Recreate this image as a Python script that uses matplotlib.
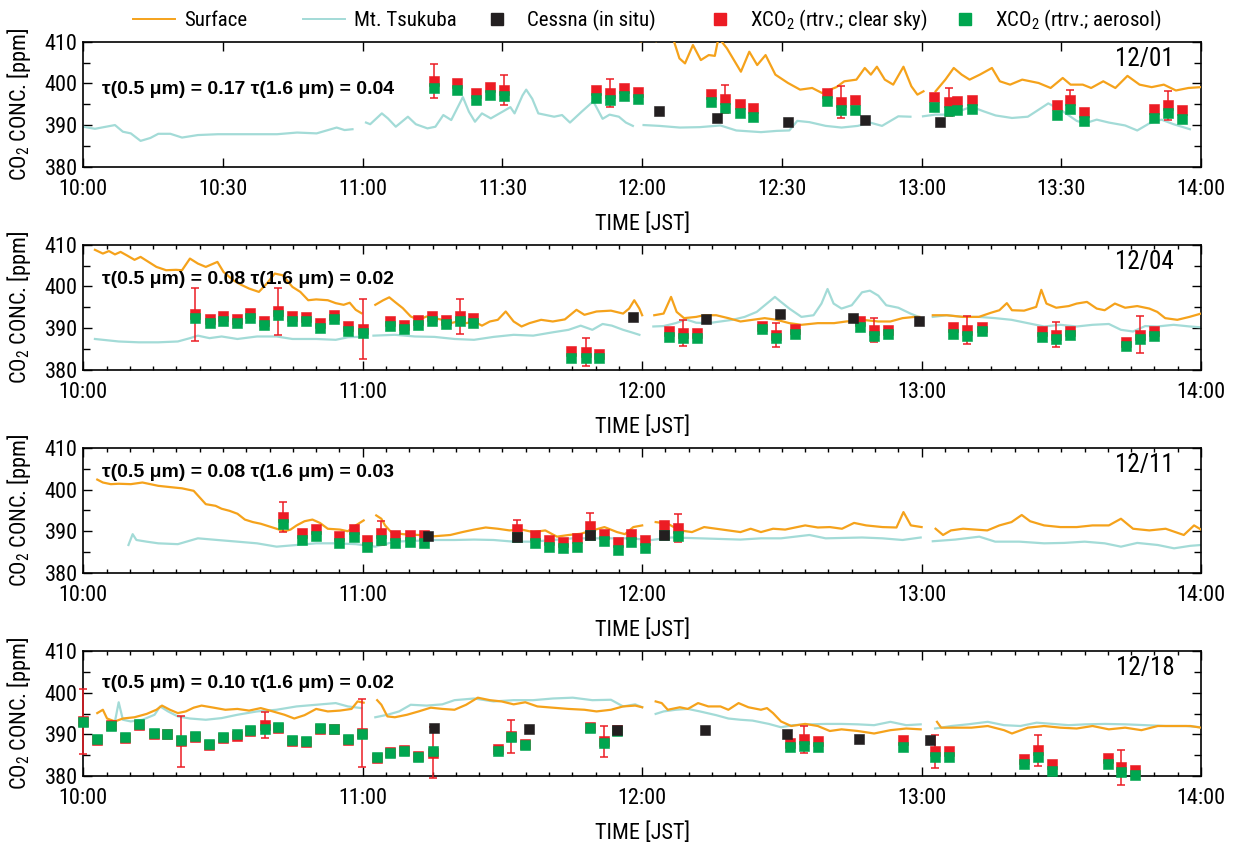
import numpy as np
import matplotlib
matplotlib.use("Agg")
import matplotlib.pyplot as plt
from matplotlib import font_manager
from matplotlib.lines import Line2D

# time axis: minutes after 10:00 JST; None marks a break in the record
# ---------------- 12/01 ----------------
surface_1201_t = [118.5, 119.8, None, 120.5, 122, 123, 124.5, 126.8, 128, 129.2, 130.9, 132.6, 134.3,
                  135.6, 136.4, 138.2, 141.2, 143, 144.7, 146.5, 148.6, 151.3, 153.9, 156.5, 158.6,
                  161.7, 163.4, 166, 167.8, 169.1, 170.4, 172.1, 173.9, 176.1, 177.8, 179.1, 180.4,
                  None, 183, 185.1, 186.9, 188.6, 190.3, 192.5, 195.1, 196.8, 199, 201.6, 205.1,
                  207.7, 210.3, 212, 214.6, 216.4, 219, 221.6, 224.2, 226.8, 229.4, 232, 234.6,
                  237.3, 240]
surface_1201 = [410.4, 410.1, None, 411.5, 411, 410.1, 411.5, 410.2, 406, 404.8, 409.2, 405.6, 406.8,
                406.6, 411, 408.4, 402.8, 407.6, 404.4, 406.8, 402.1, 400.1, 398.5, 398.9, 397.7,
                399.1, 400.5, 400.9, 403.7, 402.1, 404, 400.9, 399.7, 404, 399.3, 397.3, 398.1,
                None, 398.1, 400.9, 403.7, 402.1, 400.9, 402.1, 403.7, 400.5, 399.7, 400.9, 400.1,
                398.9, 401.3, 399.7, 399.7, 398.9, 400.5, 398.9, 401.8, 399.7, 399.1, 399.7, 398.3,
                398.9, 399.1]
tsukuba_1201_t = [0, 2.5, 6.8, 8.5, 10.2, 12.3, 14.4, 16.1, 18.7, 21.2, 24.6, 28.9, 33.1, 37.4, 41.6,
                  45.9, 50.1, 54.4, 56.1, 57.8, None, 60.7, 61.6, 64.1, 65.4, 67.1, 69.7, 71.4, 73.9,
                  75.6, 77.3, 79, 81.5, 82.8, 84.1, 85.6, 87.5, 90, 91.7, 92.6, 94.3, 95.1, 96.4,
                  97.7, 101.1, 102.8, 104.5, 107, 109.5, 111.5, 113, 115, 116.5, 118, None, 120.3,
                  123.7, 128.1, 132.4, 136.8, 140.2, 145.5, 148.9, 151.6, 153.3, 155.9, 159.4, 162.8,
                  166.3, 168.9, 171.5, 175, 177.6, None, 180.3, 182.9, 186.4, 189, 190.7, 193.3,
                  195.9, 199.4, 202.8, 204.6, 207.2, 209.8, 213.3, 215, 217.6, 220.2, 223.7, 226.3,
                  228.9, 231.5, 234.1, 237.6]
tsukuba_1201 = [389.6, 389.1, 390, 388.4, 388, 386.2, 386.9, 387.9, 387.9, 387, 387.6, 387.8, 387.8,
                387.8, 387.8, 388.2, 388, 389.4, 388.8, 389, None, 390.6, 390.2, 392.8, 391.6, 389.6,
                392, 390.2, 389.2, 389.6, 392.4, 391.2, 396.7, 393.2, 390.8, 392.8, 391.6, 393.2,
                394.3, 392.8, 397.1, 398.5, 396.3, 392.8, 392, 392.4, 390.6, 393.2, 395.7, 391.5,
                392.5, 392, 390.6, 389.8, None, 390, 389.8, 389.4, 389.5, 389.9, 388.7, 388.3,
                388.6, 388.7, 391, 390.7, 389.8, 389.4, 389.8, 390.6, 389.8, 392.1, 392, None,
                392.1, 392.5, 392.5, 393.7, 394.4, 393.3, 392.3, 391.7, 392, 393.3, 395.2, 393.7,
                391, 390.4, 391.3, 390.6, 389.9, 388.7, 390.4, 391.3, 390.2, 389]
xco2_1201_t = [75.2, 80.3, 84.3, 87.3, 90.3, 110, 113, 116, 119, 134.8, 137.8, 140.9, 143.7, 159.7,
               162.7, 165.7, 182.7, 185.9, 187.7, 190.9, 209, 211.8, 214.9, 229.8, 232.9, 235.9]
clear_1201 = [400.6, 400, 397.6, 399.1, 398.4, 398.4, 397.7, 398.9, 397.9, 397.5, 396.3, 395.1, 394.1,
              397.7, 395.5, 396, 396.7, 395.5, 395.7, 396, 394.9, 395.9, 393.1, 393.9, 394.7, 393.6]
aerosol_1201 = [398.8, 398.5, 396.1, 397.3, 396.9, 396.5, 395.9, 396.9, 396.3, 395.5, 394.1, 392.9,
                392, 395.7, 393.5, 393.7, 394.3, 393.3, 393.6, 393.9, 392.5, 393.9, 391, 391.6,
                392.8, 391.5]
err_1201 = [4, 0, 0, 0, 3.7, 0, 3.4, 0, 0, 0, 3.4, 0, 0, 0, 3.9, 0, 0, 3.4, 0, 0, 0, 2.6, 0, 0, 3.5, 0]
cessna_1201_t = [123.7, 136.1, 151.4, 167.9, 183.9]
cessna_1201 = [393.3, 391.6, 390.8, 391.2, 390.8]

# ---------------- 12/04 ----------------
surface_1204_t = [2.5, 4.2, 5.5, 6.8, 8, 9.3, 11, 12.3, 14, 15.7, 17.8, 19.9, 21.2, 22.9, 24.6, 26.3,
                  28.8, 30.1, 32.2, 33.9, 35.6, 37.7, 39.4, 41.1, 42.8, 44.9, 46.6, 48.3, 50, 52.5,
                  54.2, 55.9, 57.2, 58.5, 59.7, None, 62.7, 64.4, 65.7, 66.9, 68.6, 70.3, 72, 73.7,
                  75.4, 77.1, 78.8, 80.5, 82.2, 83.9, 85.6, 87.3, 89, 90.7, 92.4, 94.1, 95.8, 98.3,
                  100.8, 103.4, 105.9, 107.6, 110.2, 113.3, 115.9, 117.2, 118.3, 119.4, 120, None,
                  122.6, 124.6, 126.2, 127.4, 129, 131.6, 133.3, 135.9, 138.5, 141.1, 143.7, 146.3,
                  148.9, 151.6, 154.2, 157.7, 161.2, 163.8, 167.2, 170.7, 173.3, 175.9, 178.5, 179.5,
                  None, 182.4, 185.4, 188.9, 192.3, 194.9, 196.7, 198.3, 199.4, 202, 204.6, 205.7,
                  206.8, 208.9, 211.6, 213.3, 215.5, 217.6, 219.3, 221.5, 223.7, 226.3, 228.9, 230.6,
                  232.3, 234.9, 237.5, 240]
surface_1204 = [408.8, 407.9, 408.5, 407.7, 408.3, 407.5, 406.4, 407.1, 405.9, 404.7, 403.9, 404,
                403.9, 406.7, 405.5, 404.7, 405.9, 403.5, 401.5, 400.4, 399.5, 398.7, 400.7, 403.1,
                402.7, 399.9, 398.7, 396.7, 396.9, 396.7, 396, 395.6, 396.1, 394.4, 393.6, None,
                395.6, 396.7, 397.4, 396.3, 394.8, 392.8, 392, 392.8, 392.4, 392, 391.2, 391.6,
                391.2, 391.6, 390.6, 391.6, 392, 394, 391.6, 390.4, 391.2, 392, 391.6, 392.1, 394.4,
                393.2, 394, 394.2, 393.5, 394.7, 396.7, 394.7, 393.1, None, 393.1, 393.5, 397.5,
                393.9, 392.4, 392.7, 393.1, 393.1, 392.4, 391.6, 392, 392.4, 392, 391.2, 390.8,
                391.2, 391.2, 391.6, 392, 391.6, 391.6, 392.4, 392.7, 392.7, None, 393.1, 393.1,
                392.7, 392.7, 393.7, 394.3, 396, 394.3, 394.2, 395.1, 399.2, 395.9, 394.9, 395.3,
                395.9, 396.3, 394.7, 394.3, 395.9, 394.9, 395.3, 394.7, 393.9, 392.4, 392, 392.7,
                393.5]
tsukuba_1204_t = [2.5, 7.6, 11.9, 16.1, 20.3, 22.9, 24.6, 27.1, 29.7, 33.1, 37.3, 41.5, 44.9, 50,
                  54.2, 56.8, 58.9, None, 62.3, 66.9, 71.2, 75.4, 79.7, 83.9, 88.1, 92.4, 96.6,
                  100.8, 104.2, 106.8, 109.3, 111.5, 113.5, 115.9, 117.7, 119.4, None, 122.4, 124.6,
                  127.2, 129.4, 131.6, 134.2, 136.8, 139.4, 142, 144.6, 147.2, 148.5, 149.8, 151.6,
                  154.2, 156.8, 158.5, 159.8, 161.1, 162.8, 165, 167.2, 168.9, 170.7, 172.4, 175,
                  177.6, 179.4, None, 182.4, 185.4, 188.9, 192.3, 195.8, 199.3, 202.8, 206.3, 209.8,
                  213.3, 216.7, 220.2, 222.8, 225.4, 228, 230.6, 234.1, 237.6, 240]
tsukuba_1204 = [387.4, 386.8, 386.6, 386.6, 386.8, 387.6, 388.2, 387.6, 388, 387.4, 388, 388, 387.4,
                387.4, 387.2, 387.8, 387.9, None, 388.2, 388.4, 388, 387.9, 387.4, 387.2, 387.9,
                388.4, 388.2, 389, 389.6, 390.6, 389.6, 391, 390.6, 389.6, 389, 388.4, None, 390.4,
                390.5, 391.2, 392.1, 391.3, 391.2, 391.6, 392, 392.7, 393.9, 396.3, 397.5, 396.3,
                394.7, 392.7, 393.1, 395.9, 399.4, 395.9, 394.7, 395.5, 398.6, 399, 397.8, 395.5,
                394.9, 393.5, 392.7, None, 392.7, 393.1, 392.7, 392.7, 392.4, 392, 391.2, 390.4,
                390.8, 390.4, 390.8, 391, 389.6, 389.2, 390.5, 390.4, 390.8, 390.4, 390.2]
xco2_1204_t = [24, 27.1, 29.9, 32.9, 35.8, 38.8, 41.9, 44.9, 47.9, 50.8, 53.8, 56.9, 60, 65.9, 68.8,
               71.9, 74.8, 77.8, 80.8, 83.7, 104.8, 107.9, 110.8, 125.7, 128.8, 131.7, 145.7, 148.7,
               152.9, 166.8, 169.8, 172.7, 186.8, 189.8, 192.9, 205.9, 208.9, 211.8, 223.9, 226.9,
               230]
clear_1204 = [393.3, 392.2, 392.8, 392.1, 393.6, 391.8, 394, 392.8, 392.6, 391.2, 393.2, 390.4, 389.8,
              391.6, 390.8, 392, 392.8, 392, 392.8, 392.4, 384.4, 384.2, 383.8, 389.2, 388.8, 388.8,
              390.5, 388.4, 389.8, 391.6, 389.6, 389.6, 390.2, 389.6, 390.2, 389.2, 388.4, 389.2,
              386.6, 388.4, 389.2]
aerosol_1204 = [392.5, 391.2, 391.6, 391.2, 392.4, 390.8, 393.2, 391.7, 391.7, 390, 392.1, 389.4,
                388.8, 390.4, 389.8, 390.8, 391.6, 391, 391.7, 391.2, 382.9, 382.9, 382.9, 387.9,
                387.6, 387.6, 389.8, 387.6, 388.6, 390.2, 388.2, 388.7, 388.7, 388, 389.2, 387.9,
                387.4, 388.4, 385.7, 387.3, 388]
err_1204 = [6.4, 0, 0, 0, 0, 0, 5.7, 0, 0, 0, 0, 0, 7.3, 0, 0, 0, 0, 0, 4.3, 0, 0, 3.4, 0, 0, 3.2,
            0, 0, 2.9, 0, 0, 2.9, 0, 0, 3.4, 0, 0, 3.0, 0, 0, 4.4, 0]
cessna_1204_t = [118.1, 133.7, 149.7, 165.2, 179.4]
cessna_1204 = [392.6, 392.1, 393.4, 392.4, 391.8]

# ---------------- 12/11 ----------------
surface_1211_t = [3, 4.2, 5.9, 7.6, 10.2, 12.7, 14.4, 16.1, 18.6, 21.2, 23.7, 25, 26.3, 28.4, 29.7,
                  31.4, 33.1, 34.7, 36.4, 38.1, 39.8, 41.5, 43.2, 44.5, 45.8, 47.5, 49.2, 50.8, 52.5,
                  55.1, 56.8, 58.5, 60.2, None, 62.9, 64, 64.8, 66.1, 68.6, 72, 75.4, 78.8, 81.4,
                  83.9, 86.4, 89, 91.5, 94.1, 96.6, 99.2, 101.7, 104.2, 106.8, 109.3, 111.9, 114.6,
                  116.3, 118.1, 120, None, 122.9, 125.5, 128.1, 130.7, 133.3, 135.9, 138.5, 141.1,
                  143.3, 145.5, 148.1, 150.7, 155, 157.7, 160.3, 162.9, 165.5, 168.1, 171.6, 174.6,
                  176.1, 177.7, 180, None, 183, 184.6, 186.3, 188.9, 191.5, 194.1, 196.7, 199.3,
                  201.5, 203.3, 206.3, 209.8, 213.3, 216.7, 220.2, 222.8, 225.4, 228.9, 232.4, 236.3,
                  238.5, 240]
surface_1211 = [402.4, 401.7, 401.3, 401.4, 401.3, 401.7, 401.3, 400.9, 400.6, 400.3, 399.7, 398.1,
                396.5, 396.1, 395.4, 394.9, 394.2, 392.8, 392.2, 391.8, 391.2, 390.6, 390, 390.4,
                391.4, 392.4, 392.8, 392, 390.6, 390.4, 390, 391.4, 392.6, None, 393.8, 393, 391.4,
                389.8, 389.3, 389.1, 388.8, 389.1, 389.8, 390.4, 390.9, 390.6, 390.2, 390.4, 389.8,
                390.2, 388.7, 389.1, 389.4, 390.2, 391, 389.8, 389.3, 391, 391.4, None, 392.2,
                391.8, 390.2, 389.8, 391, 390.6, 390.2, 389.8, 390.6, 389.8, 390.6, 390.4, 391.4,
                390.9, 391, 390.6, 392, 391.4, 391, 390.9, 394.6, 391.4, 391, None, 390.6, 389.1,
                390.2, 390.6, 390.4, 390.2, 391.4, 392.2, 393.9, 392.4, 391.4, 391, 391, 391.4,
                391.4, 393, 390.6, 390.2, 390.6, 389.1, 391.4, 390.4]
tsukuba_1211_t = [9.7, 10.6, 11.4, 13.6, 16.1, 20.3, 24.6, 28.8, 33.1, 37.3, 41.5, 45.8, 50, 54.2,
                  58.5, 62.7, 66.9, 71.2, 75.4, 79.7, 83.9, 88.1, 92.4, 96.6, 100.8, 105.1, 109.3,
                  113, 117, 122, 126.3, 132.4, 141.1, 145.5, 149.8, 155.9, 159.4, 167.2, 171.6,
                  175.9, 179.8, None, 182.4, 187.2, 192.4, 195.8, 201, 206.3, 210.6, 215, 219.3,
                  222.8, 226.3, 230.7, 234.2, 237.7, 240]
tsukuba_1211 = [386.7, 389.3, 387.9, 387.5, 387.1, 386.9, 388.3, 387.9, 387.5, 387.1, 386.3, 386.7,
                387.1, 387.1, 386.9, 386.3, 387.5, 387.7, 387.9, 387.9, 388, 387.9, 387.5, 387.5,
                387.9, 388.3, 388.3, 388.3, 388.3, 387.9, 388.5, 388.3, 388, 388.3, 388.3, 389.1,
                388.3, 388.5, 388.3, 387.9, 388.5, None, 387.6, 388, 388.7, 387.5, 387.5, 387.1,
                387.2, 387.5, 387.1, 386.3, 387.2, 386.7, 385.9, 386.5, 386.7]
xco2_1211_t = [42.8, 47, 50, 54.9, 58.1, 61, 64, 66.9, 70.1, 73.1, 93.1, 97, 100, 103, 105.9, 108.9,
               111.9, 114.8, 117.7, 120.7, 124.6, 127.7]
clear_1211 = [393.4, 389.6, 390.6, 388.8, 390.6, 387.9, 389.6, 389.1, 389.1, 389.1, 390.6, 389.1,
              387.9, 387.5, 388.3, 391.2, 389.4, 387.5, 389.4, 388, 391.6, 390.8]
aerosol_1211 = [391.7, 387.9, 388.8, 387.1, 388.7, 386.3, 387.9, 387.1, 387.3, 387.2, 388.6, 387.2,
                386.1, 385.9, 386.3, 389, 387.6, 385.5, 387.5, 385.9, 389.2, 388.8]
err_1211 = [3.7, 0, 0, 0, 0, 0, 2.8, 0, 0, 0, 2.0, 0, 0, 0, 0, 3.1, 0, 0, 0, 0, 0, 3.4]
cessna_1211_t = [74, 93.1, 108.9, 124.6]
cessna_1211 = [388.8, 388.5, 389.1, 389.1]

# ---------------- 12/18 ----------------
surface_1218_t = [3, 4.2, 5.1, 6.8, 8.5, 11, 13.6, 15.7, 16.9, 18.6, 20.3, 22, 23.7, 25.4, 28, 30.5,
                  33.1, 35.6, 38.1, 40.7, 43.2, 45.3, 47.5, 50, 52.5, 55.1, 57.6, 58.9, 60.2, None,
                  63.1, 64, 65.3, 66.9, 69.5, 72, 74.6, 77.1, 79.7, 82.2, 84.7, 87.3, 89.8, 92.4,
                  94.9, 97.5, 100.8, 104.2, 107.6, 110.2, 113.3, 115.9, 118.5, 120, None, 122.9,
                  124.2, 125.5, 128.1, 129.8, 132, 134.2, 136.8, 138.5, 140.7, 142.8, 145.5, 146.8,
                  148.1, 149.8, 152, 155, 157.7, 160.3, 162.8, 166.3, 169.8, 173.3, 176.7, 179.8,
                  None, 183.3, 184.2, 187.2, 190.7, 194.2, 197.7, 199.4, 202.8, 206.3, 209.8, 213.3,
                  216.7, 220.2, 223.7, 227.2, 230.7, 234.2, 237.7, 240]
surface_1218 = [395.1, 395.9, 393.8, 393.1, 393.8, 394.1, 394.9, 395.9, 396.9, 395.9, 395.1, 395.5,
                396.4, 396.9, 396.4, 395.9, 396.1, 395.7, 396.3, 395.5, 394.7, 393.8, 394.6, 396.1,
                395.5, 395.7, 396.1, 397.9, 397.6, None, 398.2, 397.1, 394.3, 394.1, 394.7, 395.5,
                396.4, 396.1, 395.9, 397.1, 398.8, 398.2, 397.9, 397.2, 397.7, 396.7, 396.4, 396.1,
                395.9, 395.5, 395.9, 396.7, 396.9, 396.5, None, 397.9, 397.5, 395.9, 396.5, 396.1,
                397.5, 396.7, 396.7, 395.9, 397.5, 396.5, 395.9, 396.3, 395.1, 393.1, 392, 392.5,
                392, 390.8, 391.2, 390.8, 390.2, 391, 391.4, 391.2, None, 393, 391.6, 391.6, 391.6,
                392, 391, 390.2, 391.6, 392, 391.6, 391.4, 392, 391.2, 391.6, 391, 392, 392, 392,
                391.6]
tsukuba_1218_t = [6.8, 7.6, 8.5, 10.2, 12.7, 15.3, 16.5, 18.2, 20.3, 22.9, 26.3, 29.7, 33.1, 37.3,
                  41.5, 45.8, 50, 54.2, 56.8, 59.7, None, 62.7, 65.3, 67.8, 70.3, 73.7, 77.1, 79.7,
                  83.9, 88.1, 92.4, 96.6, 100.8, 105.1, 109.3, 113.3, 115.9, 118.5, 120, None, 122.9,
                  124.6, 127.2, 129.8, 132.4, 135.9, 138.5, 141.1, 143.7, 147.2, 149.8, 152.4, 155.9,
                  159.4, 162.8, 166.3, 169.8, 173.3, 176.7, 179.8, None, 182.9, 186.4, 189.9, 194.2,
                  197.7, 201.2, 204.7, 208.2, 211.6, 215.1, 219.4, 223.8, 228.1, 232.4, 236.8, 240]
tsukuba_1218 = [393.1, 397.7, 393.5, 393.1, 393.5, 394.7, 396.7, 395.5, 394.3, 393.8, 393.5, 393.9,
                394.7, 395.5, 395.9, 396.7, 397.1, 397.5, 396.7, 396.3, None, 394.1, 394.7, 395.5,
                397.1, 396.9, 397.2, 398.2, 398.6, 397.9, 398.2, 398.2, 398.6, 398.8, 398.2, 398.3,
                396.7, 397.2, 396.5, None, 394.9, 395.5, 395.9, 396.1, 395.5, 394.6, 393.8, 393.5,
                393.3, 392.5, 391.7, 392.2, 392.4, 392.5, 392.5, 392.4, 392.2, 393, 392.2, 392.4,
                None, 391.4, 392, 392.4, 393, 392.2, 392, 392.8, 392.5, 392.2, 392.4, 392.5, 392.4,
                392.2, 392, 392, 391.7]
xco2_1218_t = [0, 3, 5.9, 8.9, 11.9, 15.1, 18, 20.9, 24, 26.9, 29.9, 32.9, 35.8, 39, 41.9, 44.9, 47.9,
               50.8, 53.9, 56.9, 59.8, 63, 65.9, 68.9, 71.9, 75, 89, 91.9, 94.9, 108.9, 111.9, 114.6,
               151.8, 154.8, 157.8, 175.9, 182.9, 185.9, 202, 204.9, 207.9, 220, 222.8, 225.9]
clear_1218 = [393.1, 388.6, 392.2, 389.1, 392.3, 390.2, 390.1, 388.3, 389.4, 387.5, 389.1, 389.7,
              390.8, 392.2, 391.5, 388.3, 388.1, 391.3, 391.2, 388.6, 390.4, 384.3, 385.8, 386.3,
              384.7, 385.6, 386.4, 389.5, 387.7, 391.8, 388.3, 391.1, 388, 388.8, 388.4, 388.6,
              385.9, 386.1, 384.1, 386.2, 382.8, 384.3, 382.1, 381.5]
aerosol_1218 = [393, 388.8, 392, 389.4, 392.5, 390.4, 390.2, 388.6, 389.6, 387.8, 389.4, 390, 391,
                391.3, 391.7, 388.6, 388.4, 391.6, 391.4, 388.8, 390.2, 384.5, 385.6, 386.1, 384.5,
                385.9, 386.1, 389.4, 387.4, 391.6, 388, 390.9, 386.9, 387.2, 386.9, 387, 384.5,
                384.6, 382.9, 384.6, 381.3, 382.9, 380.9, 380.2]
err_1218 = [7.7, 0, 0, 0, 0, 0, 0, 6.2, 0, 0, 0, 0, 0, 3.1, 0, 0, 0, 0, 0, 0, 8.2, 0, 0, 0, 0, 6.1,
            0, 4.0, 0, 0, 3.8, 0, 0, 3.2, 0, 0, 4.0, 0, 0, 3.7, 0, 0, 4.2, 0]
cessna_1218_t = [75.3, 95.8, 114.5, 133.5, 151.1, 166.6, 181.8]
cessna_1218 = [391.6, 391.4, 391.1, 391, 390, 388.8, 388.6]

dates = ["12/01", "12/04", "12/11", "12/18"]
tau_labels = ["τ(0.5 μm) = 0.17 τ(1.6 μm) = 0.04",
              "τ(0.5 μm) = 0.08 τ(1.6 μm) = 0.02",
              "τ(0.5 μm) = 0.08 τ(1.6 μm) = 0.03",
              "τ(0.5 μm) = 0.10 τ(1.6 μm) = 0.02"]

SURF_C = "#f5a21b"
TSUK_C = "#a3dbd7"
RED_C = "#ec1c24"
GREEN_C = "#00a650"
BLACK_C = "#231f20"


def pick_narrow_font():
    # prefer a condensed sans face; fall back to plain Liberation Sans
    entries = font_manager.fontManager.ttflist
    names = {e.name for e in entries}
    for name in ("Liberation Sans Narrow", "Arial Narrow", "Roboto Condensed",
                 "Open Sans Condensed", "Noto Sans Condensed"):
        if name in names:
            return name, "normal", 1.0
    for name in ("Noto Sans", "Roboto", "Open Sans", "DejaVu Sans"):
        for e in entries:
            if e.name == name and "condensed" in str(e.stretch) and "extra" not in str(e.stretch) \
                    and "ultra" not in str(e.stretch):
                return name, e.stretch, 1.0
    return "Liberation Sans", "normal", 0.86


NARROW, STRETCH, SCALE = pick_narrow_font()
plt.rcParams["font.family"] = [NARROW, "DejaVu Sans"]
plt.rcParams["font.stretch"] = STRETCH
plt.rcParams["mathtext.fontset"] = "custom"
plt.rcParams["mathtext.rm"] = NARROW
plt.rcParams["axes.linewidth"] = 1.2


def arr(values):
    return np.array([np.nan if v is None else v for v in values], dtype=float)


def draw_panel(ax, surf_t, surf, tsuk_t, tsuk, xt, clear, aero, err, ct, cessna,
               date, tau, tau_y, half_hour):
    ax.plot(arr(tsuk_t), arr(tsuk), color=TSUK_C, lw=1.6, zorder=2)
    ax.plot(arr(surf_t), arr(surf), color=SURF_C, lw=1.6, zorder=3)

    xt = np.asarray(xt)
    clear = np.asarray(clear)
    err = np.asarray(err)
    m = err > 0
    ax.errorbar(xt[m], clear[m], yerr=err[m], fmt="none", ecolor=RED_C, elinewidth=1.1,
                capsize=2.6, capthick=1.1, zorder=4, clip_on=False)
    ax.plot(xt, clear, ls="none", marker="s", ms=7, color=RED_C, mec=RED_C, mew=0.4,
            zorder=5, clip_on=False)
    ax.plot(xt, aero, ls="none", marker="s", ms=7, color=GREEN_C, mec=GREEN_C, mew=0.4,
            zorder=6, clip_on=False)
    ax.plot(ct, cessna, ls="none", marker="s", ms=7, color=BLACK_C, mec=BLACK_C, mew=0.4,
            zorder=7, clip_on=False)

    ax.set_xlim(0, 240)
    ax.set_ylim(380, 410)
    ax.set_yticks([380, 390, 400, 410])
    ax.set_yticks([385, 395, 405], minor=True)
    if half_hour:
        ticks = np.arange(0, 241, 30)
        ax.set_xticks(ticks)
        ax.set_xticklabels([f"{10 + t // 60}:{t % 60:02d}" for t in ticks])
    else:
        ticks = np.arange(0, 241, 60)
        ax.set_xticks(ticks)
        ax.set_xticklabels([f"{10 + t // 60}:00" for t in ticks])
        ax.set_xticks(np.arange(0, 241, 5), minor=True)
    ax.tick_params(which="both", direction="in", top=True, right=True, width=1.0,
                   labelsize=16 * SCALE)
    ax.xaxis.set_tick_params(which="major", length=6.5, pad=8.5)
    ax.xaxis.set_tick_params(which="minor", length=3.2)
    ax.yaxis.set_tick_params(which="major", length=6.5, pad=4)
    ax.yaxis.set_tick_params(which="minor", length=4.8)

    ax.set_ylabel("CO$_2$ CONC. [ppm]", fontsize=16 * SCALE)
    ax.yaxis.set_label_coords(-0.045, 0.5)
    ax.set_xlabel("TIME [JST]", fontsize=16 * SCALE)
    ax.xaxis.set_label_coords(0.5, -0.37)

    ax.text(0.976, 0.862, date, transform=ax.transAxes, fontsize=18 * SCALE,
            ha="right", va="center")
    ax.text(0.0165, tau_y, tau, transform=ax.transAxes, fontsize=14, fontweight="bold",
            family=["Liberation Sans", "DejaVu Sans"], stretch="normal", ha="left", va="center")


fig = plt.figure(figsize=(12.34, 8.48), dpi=100)
left, width, height = 0.0675, 0.9058, 0.1474
bottoms = [0.8034, 0.5639, 0.3244, 0.0849]
tau_ys = [0.618, 0.722, 0.80, 0.738]

panels = [
    (surface_1201_t, surface_1201, tsukuba_1201_t, tsukuba_1201, xco2_1201_t, clear_1201,
     aerosol_1201, err_1201, cessna_1201_t, cessna_1201),
    (surface_1204_t, surface_1204, tsukuba_1204_t, tsukuba_1204, xco2_1204_t, clear_1204,
     aerosol_1204, err_1204, cessna_1204_t, cessna_1204),
    (surface_1211_t, surface_1211, tsukuba_1211_t, tsukuba_1211, xco2_1211_t, clear_1211,
     aerosol_1211, err_1211, cessna_1211_t, cessna_1211),
    (surface_1218_t, surface_1218, tsukuba_1218_t, tsukuba_1218, xco2_1218_t, clear_1218,
     aerosol_1218, err_1218, cessna_1218_t, cessna_1218),
]

for i, series in enumerate(panels):
    ax = fig.add_axes([left, bottoms[i], width, height])
    draw_panel(ax, *series, dates[i], tau_labels[i], tau_ys[i], half_hour=(i == 0))

# legend row across the top, one entry per block
legend_entries = [
    (Line2D([], [], color=SURF_C, lw=1.4), "Surface", 0.1078),
    (Line2D([], [], color=TSUK_C, lw=1.4), "Mt. Tsukuba", 0.2455),
    (Line2D([], [], ls="none", marker="s", ms=9, color=BLACK_C), "Cessna (in situ)", 0.3857),
    (Line2D([], [], ls="none", marker="s", ms=9, color=RED_C), "XCO$_2$ (rtrv.; clear sky)", 0.5665),
    (Line2D([], [], ls="none", marker="s", ms=9, color=GREEN_C), "XCO$_2$ (rtrv.; aerosol)", 0.7650),
]
for handle, label, xpos in legend_entries:
    fig.legend([handle], [label], loc="center left", bbox_to_anchor=(xpos, 0.9756),
               frameon=False, fontsize=15 * SCALE, handlelength=2.0, handletextpad=0.45,
               borderpad=0, borderaxespad=0)

fig.savefig("out.png", dpi=100)
